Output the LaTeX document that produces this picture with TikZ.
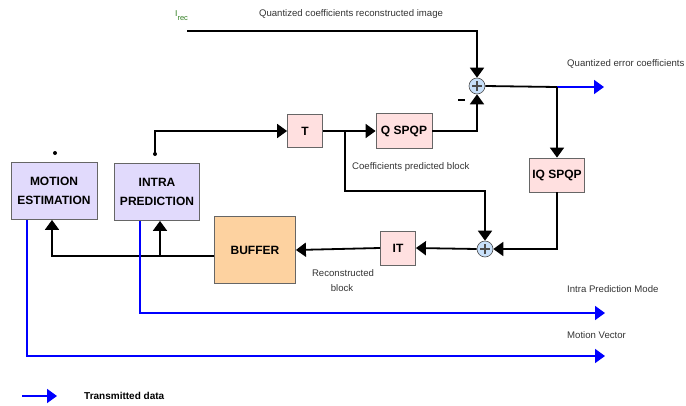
\documentclass[tikz,border=0pt]{standalone}
\usepackage{fontspec}
\setmainfont{Liberation Sans}
\usetikzlibrary{arrows.meta}
\definecolor{pinkfill}{HTML}{FFE0E0}
\definecolor{lilac}{HTML}{E1DAFC}
\definecolor{peach}{HTML}{FDD2A0}
\definecolor{sumblue}{HTML}{C8E0FA}
\definecolor{txgreen}{HTML}{2E7D1E}
\definecolor{linkblue}{HTML}{0000FF}
\tikzset{
  blk/.style={draw=gray!80!black, line width=0.8pt, align=center, inner sep=0pt,
    font=\fontsize{12}{14}\selectfont\bfseries},
  tbox/.style={blk, fill=pinkfill},
  pbox/.style={blk, fill=lilac, minimum width=86pt, minimum height=57pt},
  sumnode/.style={circle, draw=gray!60!black, fill=sumblue, line width=0.6pt,
    minimum size=16pt, inner sep=0pt,
    path picture={
      \draw[line width=1.3pt] ([xshift=-5pt]path picture bounding box.center) -- ([xshift=5pt]path picture bounding box.center);
      \draw[line width=1.3pt] ([yshift=-5pt]path picture bounding box.center) -- ([yshift=5pt]path picture bounding box.center);
    }},
  flow/.style={line width=1.8pt, -{Triangle[length=10pt,width=14pt]}},
  plain/.style={line width=1.8pt},
  sent/.style={line width=1.8pt, draw=linkblue, -{Triangle[length=10pt,width=14pt]}, color=linkblue},
  note/.style={font=\fontsize{9.6}{11}\selectfont, text=black!80, inner sep=0pt}
}
\begin{document}
\begin{tikzpicture}[x=1pt,y=-1pt]
\useasboundingbox (0,0) rectangle (686,405);

% blocks
\node[tbox, minimum width=35pt, minimum height=33pt] (t) at (305,131) {T};
\node[tbox, minimum width=56pt, minimum height=35pt] (q) at (404,131) {Q SPQP};
\node[tbox, minimum width=55pt, minimum height=34pt] (iq) at (557,175) {IQ SPQP};
\node[tbox, minimum width=35pt, minimum height=34pt] (it) at (398,248) {IT};
\node[blk, fill=peach, minimum width=81pt, minimum height=67pt] (buf) at (255,250) {BUFFER};
\node[pbox] (me) at (54,191) {MOTION\\[5pt]ESTIMATION};
\node[pbox, minimum width=85pt] (ip) at (157,192) {INTRA\\[5pt]PREDICTION};
\node[sumnode] (s1) at (477,86) {};
\node[sumnode] (s2) at (485,249) {};

% small dots and junction points
\fill (55,153) circle (2pt);
\fill (155,154) circle (2pt);
\coordinate (ipdot) at (155,154);
\coordinate (irec) at (187,31);
\coordinate (tap) at (345,131);
\coordinate (out1) at (557,87);
\coordinate (outend) at (604,87);
\coordinate (fb) at (160,256);

% texts
\node[font=\fontsize{8.5}{10}\selectfont, text=txgreen, inner sep=0pt, anchor=west] (lrec) at (175,16)
  {I\raisebox{-4pt}{\fontsize{7.5}{8}\selectfont rec}};
\node[note] (lqcri) at (351,14) {Quantized coefficients reconstructed image};
\node[note, anchor=west] (lqec) at (567,64) {Quantized error coefficients};
\node[note, anchor=west] (lcpb) at (352,167) {Coefficients predicted block};
\node[note] (lrb1) at (343,273) {Reconstructed};
\node[note] (lrb2) at (342,288) {block};
\node[note, anchor=west] (lipm) at (567,289) {Intra Prediction Mode};
\node[note, anchor=west] (lmv) at (567,335) {Motion Vector};
\node[font=\fontsize{10}{11}\selectfont\bfseries, anchor=west, inner sep=0pt] (ltd) at (84,396) {Transmitted data};
\draw[line width=1.4pt] (458,100) -- (465,100);

% forward path
\draw[flow] (irec) -| (s1.north);
\draw[flow] (ipdot) |- (t.west);
\draw[flow] (t.east) -- (q.west);
\draw[flow] (q.east) -| (s1.south);
\draw[plain] (s1.east) -- (out1);
\draw[sent] (out1) -- (outend);
\draw[flow] (out1) -- (iq.north);
\draw[flow] (tap) |- (485,191) -- (s2.north);
\draw[flow] (iq.south) |- (s2.east);
\draw[flow] (s2.west) -- (it.east);
\draw[flow] (it.west) -- (buf.east);

% feedback to the predictors
\draw[flow] (buf.west |- fb) -| (me.south -| 52,0);
\draw[flow] (fb) -- (ip.south -| fb);

% transmitted side information
\draw[sent] (me.south -| 27,0) |- (605,356);
\draw[sent] (ip.south -| 140,0) |- (605,313);

% legend
\draw[sent] (22,396) -- (57,396);
\end{tikzpicture}
\end{document}
